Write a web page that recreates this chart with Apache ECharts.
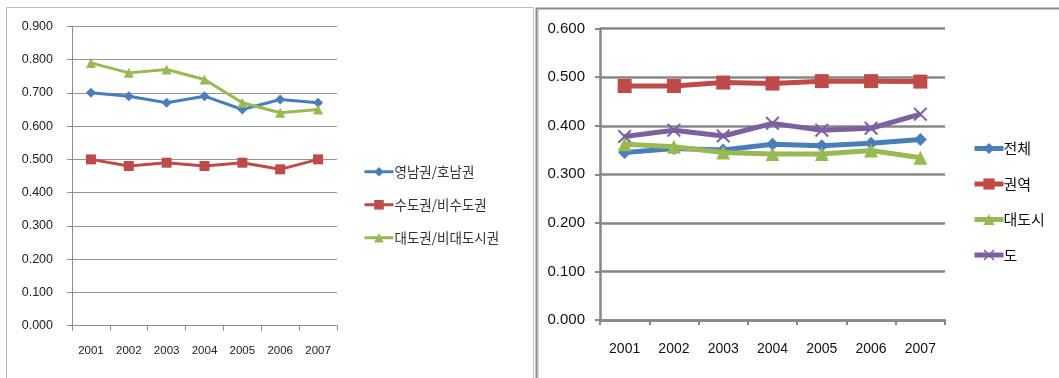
<!DOCTYPE html>
<html>
<head>
<meta charset="utf-8">
<script src="https://cdn.jsdelivr.net/npm/echarts@6/dist/echarts.min.js"></script>
<style>
  html, body { margin: 0; padding: 0; background: #fff; }
  #chart { width: 1059px; height: 378px; }
</style>
</head>
<body>
<div id="chart"></div>
<script>
// Years shared by both panels
const years = ['2001', '2002', '2003', '2004', '2005', '2006', '2007'];

// Left panel: ratios between region groups
const leftNames = ['영남권/호남권', '수도권/비수도권', '대도권/비대도시권'];
const yeongnamHonam = [0.700, 0.690, 0.670, 0.690, 0.650, 0.680, 0.670];
const capitalNonCapital = [0.500, 0.480, 0.490, 0.480, 0.490, 0.470, 0.500];
const metroNonMetro = [0.790, 0.760, 0.770, 0.740, 0.670, 0.640, 0.650];

// Right panel: index by level
const rightNames = ['전체', '권역', '대도시', '도'];
const total = [0.345, 0.353, 0.350, 0.362, 0.359, 0.364, 0.372];
const region = [0.482, 0.482, 0.489, 0.487, 0.492, 0.492, 0.491];
const metroCity = [0.362, 0.357, 0.345, 0.342, 0.342, 0.349, 0.334];
const province = [0.378, 0.391, 0.379, 0.405, 0.391, 0.395, 0.424];

const BLUE = '#4a7ebb', RED = '#be4b48', GREEN = '#98b954', PURPLE = '#7d60a0';
const CROSS = 'path://M0,1L1,0L5,4L9,0L10,1L6,5L10,9L9,10L5,6L1,10L0,9L4,5Z';

const chart = echarts.init(document.getElementById('chart'), null, { renderer: 'canvas' });

const leftFont = "'Liberation Sans', 'Noto Sans CJK KR', sans-serif";
const rightFont = "'Liberation Sans Narrow', 'Liberation Sans', 'Noto Sans CJK KR', sans-serif";

function leftLine(name, data, color, symbol, size) {
  return {
    name, type: 'line', data, xAxisIndex: 0, yAxisIndex: 0,
    symbol, symbolSize: size,
    lineStyle: { color, width: 3 },
    itemStyle: { color },
    animation: false
  };
}
function rightLine(name, data, color, symbol, size, z) {
  return {
    name, type: 'line', data, xAxisIndex: 1, yAxisIndex: 1,
    symbol, symbolSize: size, z,
    lineStyle: { color, width: 5 },
    itemStyle: { color },
    animation: false
  };
}

chart.setOption({
  backgroundColor: '#fff',
  animation: false,
  graphic: [
    // panel frames
    { type: 'polyline', shape: { points: [[6.5, 378], [6.5, 7.5], [533.5, 7.5], [533.5, 378]] },
      style: { stroke: '#bdbdbd', lineWidth: 1, fill: null }, silent: true },
    { type: 'polyline', shape: { points: [[536.5, 378], [536.5, 8.5], [1059, 8.5]] },
      style: { stroke: '#8a8a8a', lineWidth: 2, fill: null }, silent: true },
    { type: 'line', shape: { x1: 538.5, y1: 10, x2: 538.5, y2: 378 },
      style: { stroke: '#d0d0d0', lineWidth: 1 }, silent: true }
  ],
  grid: [
    { left: 72, right: 722, top: 26.3, bottom: 52.3 },
    { left: 600, right: 114, top: 28.7, bottom: 58 }
  ],
  legend: [
    {
      data: leftNames, orient: 'vertical', left: 358, top: 160,
      itemWidth: 29, itemHeight: 12, itemGap: 19.5,
      lineStyle: { width: 3 },
      textStyle: { fontFamily: "'Noto Sans CJK KR', sans-serif", fontSize: 13.5, color: '#333', padding: [0, 0, 0, -4] }
    },
    {
      data: rightNames, orient: 'vertical', left: 967, top: 136,
      itemWidth: 29, itemHeight: 14, itemGap: 20.5,
      lineStyle: { width: 5 },
      textStyle: { fontFamily: "'Noto Sans CJK KR', sans-serif", fontSize: 15, color: '#111', padding: [7, 0, 0, -5] }
    }
  ],
  xAxis: [
    {
      gridIndex: 0, type: 'category', data: years, boundaryGap: true,
      axisLine: { lineStyle: { color: '#8c8c8c', width: 1 } },
      axisTick: { show: true, length: 5, lineStyle: { color: '#8c8c8c' } },
      axisLabel: { margin: 19, fontSize: 11.5, color: '#222', fontFamily: leftFont }
    },
    {
      gridIndex: 1, type: 'category', data: years, boundaryGap: true,
      axisLine: { lineStyle: { color: '#878787', width: 2.5 } },
      axisTick: { show: true, length: 5, lineStyle: { color: '#878787', width: 2 } },
      axisLabel: { margin: 22, fontSize: 14, color: '#111', fontFamily: rightFont }
    }
  ],
  yAxis: [
    {
      gridIndex: 0, type: 'value', min: 0, max: 0.9, interval: 0.1,
      axisLine: { show: true, lineStyle: { color: '#8c8c8c', width: 1 } },
      axisTick: { show: true, length: 5, lineStyle: { color: '#8c8c8c' } },
      splitLine: { lineStyle: { color: '#959595', width: 1 } },
      axisLabel: { margin: 19, fontSize: 12.5, color: '#222', fontFamily: leftFont,
        formatter: v => v.toFixed(3) }
    },
    {
      gridIndex: 1, type: 'value', min: 0, max: 0.6, interval: 0.1,
      axisLine: { show: true, lineStyle: { color: '#878787', width: 2.5 } },
      axisTick: { show: true, length: 5, lineStyle: { color: '#878787', width: 2 } },
      splitLine: { lineStyle: { color: '#878787', width: 2.5 } },
      axisLabel: { margin: 15, fontSize: 15, color: '#111', fontFamily: rightFont,
        formatter: v => v.toFixed(3) }
    }
  ],
  series: [
    leftLine(leftNames[0], yeongnamHonam, BLUE, 'diamond', 10),
    leftLine(leftNames[1], capitalNonCapital, RED, 'rect', 10),
    leftLine(leftNames[2], metroNonMetro, GREEN, 'triangle', 10),
    rightLine(rightNames[0], total, BLUE, 'diamond', 13, 3),
    rightLine(rightNames[1], region, RED, 'rect', 14, 2),
    rightLine(rightNames[2], metroCity, GREEN, 'triangle', 14, 4),
    rightLine(rightNames[3], province, PURPLE, CROSS, 14, 2)
  ]
});
</script>
</body>
</html>
